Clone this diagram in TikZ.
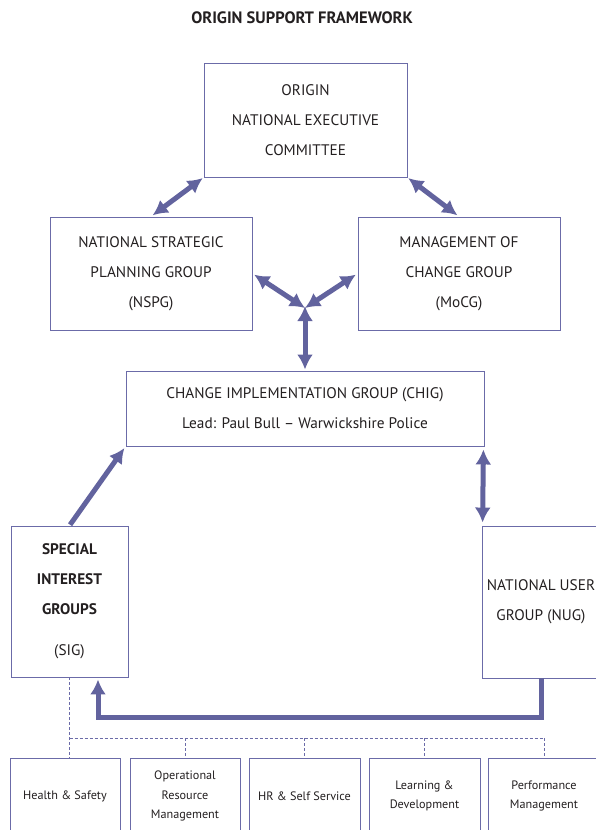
\documentclass[tikz,border=0pt]{standalone}
\usepackage{fontspec}
\setmainfont{PT Sans}
\usetikzlibrary{arrows.meta}
\definecolor{framepurple}{HTML}{6B6BA8}
\definecolor{arrowpurple}{HTML}{62639E}
\definecolor{textgrey}{HTML}{231F20}
\tikzset{
  groupbox/.style={draw=framepurple, line width=0.9pt, text=textgrey, align=center, inner sep=0pt, font=\fontsize{15.3}{30}\selectfont},
  areabox/.style={draw=framepurple, line width=0.9pt, text=textgrey, align=center, inner sep=0pt, minimum height=76pt, font=\fontsize{12.2}{19.5}\selectfont},
  twoway/.style={draw=arrowpurple, line width=5pt, {Latex[length=15pt,width=16pt]}-{Latex[length=15pt,width=16pt]}},
  oneway/.style={draw=arrowpurple, line width=5pt, -{Latex[length=15pt,width=16pt]}},
  feed/.style={draw=framepurple, line width=0.8pt, dash pattern=on 3pt off 2pt}
}
\begin{document}
\begin{tikzpicture}[x=1pt, y=-1pt]
\useasboundingbox (0,0) rectangle (595,830);
\node[text=textgrey, font=\fontsize{16.5}{18}\selectfont\bfseries] (title) at (302,18) {ORIGIN SUPPORT FRAMEWORK};
% committees
\node[groupbox, minimum width=203pt, minimum height=114pt] (origin) at (305.5,120) {ORIGIN\\NATIONAL EXECUTIVE\\COMMITTEE};
\node[groupbox, minimum width=202pt, minimum height=113pt] (nspg) at (151,273.5) {NATIONAL STRATEGIC\\PLANNING GROUP\\(NSPG)};
\node[groupbox, minimum width=202pt, minimum height=113pt] (mocg) at (459,273.5) {MANAGEMENT OF\\CHANGE GROUP\\(MoCG)};
\node[groupbox, minimum width=358pt, minimum height=75pt] (chig) at (305,408.5) {CHANGE IMPLEMENTATION GROUP (CHIG)\\Lead: Paul Bull -- Warwickshire Police};
\node[groupbox, minimum width=117pt, minimum height=151pt] (sig) at (69.5,601.5) {\textbf{SPECIAL}\\\textbf{INTEREST}\\\textbf{GROUPS}\\[11pt](SIG)};
\node[groupbox, minimum width=118pt, minimum height=152pt] (nug) at (541,602) {NATIONAL USER\\GROUP (NUG)};
% interest areas
\node[areabox, minimum width=110pt] (area1) at (65,796) {Health \& Safety};
\node[areabox, minimum width=110pt] (area2) at (185,796) {Operational\\Resource\\Management};
\node[areabox, minimum width=111pt] (area3) at (304.5,796) {HR \& Self Service};
\node[areabox, minimum width=111pt] (area4) at (424.5,796) {Learning \&\\Development};
\node[areabox, minimum width=112pt] (area5) at (544,796) {Performance\\Management};
\coordinate (hub) at (305,308);
\coordinate (bus) at (69.5,738);
% arrows
\draw[twoway, shorten <=1pt, shorten >=2pt] (origin.south west) -- (nspg.north);
\draw[twoway, shorten <=1pt, shorten >=2pt] (origin.south east) -- (mocg.north);
\draw[twoway, shorten <=2pt] (nspg.east) -- (hub);
\draw[twoway, shorten <=2pt] (mocg.west) -- (hub);
\draw[twoway, shorten >=1pt] ([yshift=2pt]hub) -- (chig.north);
\draw[twoway, shorten <=3pt, shorten >=3pt] ([xshift=-1pt]chig.south east) -- ([xshift=1pt]nug.north west);
\draw[oneway, shorten <=1pt, shorten >=2pt] (sig.north) -- (chig.south west);
\draw[oneway, shorten >=2pt] (nug.south) -- ++(0,39) -| ([xshift=28.5pt]sig.south);
% dashed links
\draw[feed] (sig.south) -- (sig.south |- area1.north);
\draw[feed] (bus) -- (bus -| area5.north);
\draw[feed] (bus -| area2.north) -- (area2.north);
\draw[feed] (bus -| area3.north) -- (area3.north);
\draw[feed] (bus -| area4.north) -- (area4.north);
\draw[feed] (bus -| area5.north) -- (area5.north);
\end{tikzpicture}
\end{document}
